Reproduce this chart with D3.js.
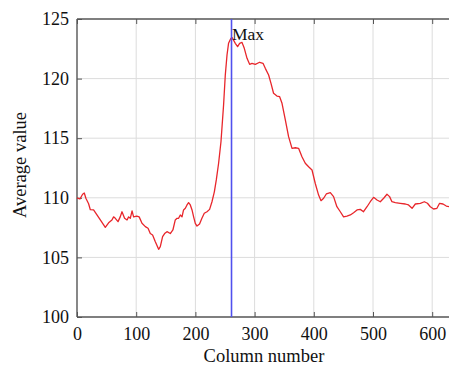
<!DOCTYPE html>
<html><head><meta charset="utf-8">
<script src="https://cdn.jsdelivr.net/npm/d3@7"></script>
<style>body{margin:0;background:#fff}svg{display:block}</style>
</head><body><svg id="c" width="449" height="366"></svg>
<script>
const colX = [0,2,5,9.5,12.3,15,19.6,22.5,28,32,39.4,47.8,53.4,59,61.8,64.7,69.3,73,76,80.4,84.5,87.2,90,93,95.6,101,105,109.8,115.4,120,123.8,127.7,132.3,137.9,140.7,144.6,148,152,157.6,162,166,169,171.6,174.5,177.4,180,183,185.8,188.5,191.4,194.3,197,199.8,202.7,207,211,215,219.6,224,228,232,235.3,239.2,243.2,247.6,250.5,253.4,256,260,262.3,267.4,271.3,274.7,278.7,282.6,287.2,291.6,295.6,301.2,308.5,314.2,318.1,323.7,327.7,332,337.8,342.3,346.3,351.9,357.4,363.2,368.8,374.3,380,385.6,391.2,397,402.5,408.1,412.2,416.6,421.1,427.9,433.4,439,444.8,450.3,456,461.7,467.2,473,478.5,484,489.9,495.4,501,506.8,512.3,518,523.6,528,532,537.7,546,554.6,560,566,571.5,580,586.7,592,596.8,602.4,608,612.5,618.2,623.8,629,640];
const avgVal = [110.0,109.96,109.9,110.3,110.4,109.96,109.5,109.0,108.98,108.7,108.14,107.52,107.9,108.14,108.4,108.28,108.0,108.4,108.83,108.28,108.14,108.4,108.28,108.9,108.4,108.47,108.4,107.86,107.58,107.44,107.0,106.88,106.32,105.68,105.9,106.74,107.0,107.16,107.0,107.3,108.14,108.28,108.28,108.56,108.4,108.98,109.12,109.4,109.6,109.4,108.98,108.4,107.86,107.63,107.8,108.28,108.7,108.83,109.03,109.67,110.5,111.5,112.9,114.7,117.78,120.3,121.98,122.96,123.38,123.43,122.96,122.68,122.96,123.04,122.54,121.7,121.2,121.28,121.2,121.37,121.28,120.86,120.3,119.6,118.77,118.54,118.48,117.93,116.53,115.13,114.15,114.2,114.15,113.45,112.9,112.6,112.33,111.2,110.23,109.76,109.96,110.32,110.43,110.1,109.25,108.83,108.4,108.47,108.56,108.75,108.98,109.03,108.83,109.25,109.67,110.04,109.82,109.67,109.96,110.3,110.1,109.67,109.6,109.54,109.48,109.4,109.12,109.48,109.54,109.67,109.54,109.25,109.06,109.12,109.54,109.48,109.31,109.25,109.2];
const xTicks = [0,100,200,300,400,500,600];
const yTicks = [100,105,110,115,120,125];
const maxCol = 261;
const maxLabel = "Max";
const xTitle = "Column number";
const yTitle = "Average value";

const svg = d3.select("#c");
const L = 77, T = 19, B = 317;
const x = d3.scaleLinear().domain([0, 630]).range([L, L + 630 * 0.592]);
const y = d3.scaleLinear().domain([100, 125]).range([B, T]);
const R = x(640);
const font = "'Liberation Serif','Times New Roman',serif";

const g = svg.append("g");
g.selectAll(".gx").data(xTicks.filter(d => d > 0)).enter().append("line")
  .attr("x1", d => x(d)).attr("x2", d => x(d)).attr("y1", T).attr("y2", B)
  .attr("stroke", "#dcdcdc").attr("stroke-width", 1);
g.selectAll(".gy").data(yTicks.filter(d => d > 100 && d < 125)).enter().append("line")
  .attr("x1", L).attr("x2", R).attr("y1", d => y(d)).attr("y2", d => y(d))
  .attr("stroke", "#dcdcdc").attr("stroke-width", 1);

const xAxis = d3.axisBottom(x).tickValues(xTicks).tickSizeInner(-5).tickSizeOuter(0).tickPadding(10);
const yAxis = d3.axisLeft(y).tickValues(yTicks).tickSizeInner(-5).tickSizeOuter(0).tickPadding(8);
const xTop = d3.axisTop(x).tickValues(xTicks).tickSizeInner(-5).tickSizeOuter(0).tickFormat("");
const gxA = svg.append("g").attr("transform", `translate(0,${B})`).call(xAxis);
const gyA = svg.append("g").attr("transform", `translate(${L},0)`).call(yAxis);
const gtA = svg.append("g").attr("transform", `translate(0,${T})`).call(xTop);
[gxA, gyA, gtA].forEach(a => {
  a.select(".domain").attr("stroke", "#555").attr("stroke-width", 1.4);
  a.selectAll(".tick line").attr("stroke", "#555");
  a.selectAll("text").attr("font-family", font).attr("font-size", 18).attr("fill", "#111");
});
gxA.select(".domain").attr("d", `M${L},0H${R}`);
gtA.select(".domain").attr("d", `M${L},0H${R}`);
gyA.select(".domain").attr("d", `M0,${B}V${T}`);

const line = d3.line().x((d, i) => x(colX[i])).y(d => y(d)).curve(d3.curveLinear);
svg.append("path").datum(avgVal).attr("d", line).attr("fill", "none")
  .attr("stroke", "#e8262b").attr("stroke-width", 1.3).attr("stroke-linejoin", "round");

svg.append("line").attr("x1", x(maxCol)).attr("x2", x(maxCol)).attr("y1", T).attr("y2", B)
  .attr("stroke", "#5050ee").attr("stroke-width", 1.6);
svg.append("text").attr("x", x(maxCol) + 0.5).attr("y", 40).text(maxLabel)
  .attr("font-family", font).attr("font-size", 17.5).attr("fill", "#111");

svg.append("text").attr("x", 264).attr("y", 362).attr("text-anchor", "middle")
  .attr("font-family", font).attr("font-size", 18.5).attr("fill", "#111").text(xTitle);
svg.append("text").attr("transform", `translate(26,165) rotate(-90)`).attr("text-anchor", "middle")
  .attr("font-family", font).attr("font-size", 18.5).attr("fill", "#111").text(yTitle);
</script></body></html>
